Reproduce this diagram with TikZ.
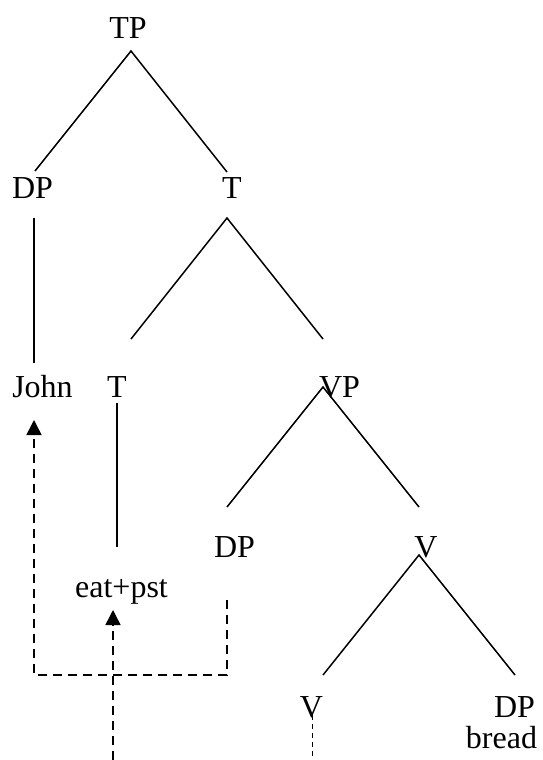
\documentclass[tikz,border=0pt]{standalone}
\usepackage{fontspec}
\setmainfont{Liberation Serif}
\usetikzlibrary{arrows.meta}

\begin{document}
\begin{tikzpicture}[
  x=1pt,y=-1pt,
  lbl/.style={anchor=base,inner sep=0pt,font=\fontsize{32}{36}\selectfont},
  branch/.style={line width=1.5pt},
  move/.style={line width=1.5pt,dash pattern=on 9pt off 6pt},
  trace/.style={line width=1pt,dash pattern=on 5pt off 4pt},
  mv/.style={-{Triangle[length=15pt,width=15pt]}}
]
  \useasboundingbox (0,0) rectangle (542,760);
  % labels
  \node[lbl] (tp)    at (128,38)    {TP};
  \node[lbl] (dpa)   at (32.5,198)  {DP};
  \node[lbl] (tbar)  at (232,198)   {T};
  \node[lbl] (john)  at (42.5,397)  {John};
  \node[lbl] (t)     at (117,397)   {T};
  \node[lbl] (vp)    at (339.5,397) {VP};
  \node[lbl] (dpb)   at (234.5,557) {DP};
  \node[lbl] (vbar)  at (426,557)   {V};
  \node[lbl] (eat)   at (121.5,597) {eat+pst};
  \node[lbl] (v)     at (311.5,717) {V};
  \node[lbl] (dpc)   at (514.5,717) {DP};
  \node[lbl] (bread) at (501.5,748) {bread};
  % branch ends
  \coordinate (tpTop) at (131,51);
  \coordinate (tpL)   at (35,171);
  \coordinate (tpR)   at (227,172);
  \coordinate (dpTop) at (34,218);
  \coordinate (dpBot) at (34,363);
  \coordinate (tbTop) at (227,218);
  \coordinate (tbL)   at (131,339);
  \coordinate (tbR)   at (323,339);
  \coordinate (tTop)  at (117,403);
  \coordinate (tBot)  at (117,547);
  \coordinate (vpTop) at (323,387);
  \coordinate (vpL)   at (227,507);
  \coordinate (vpR)   at (419,507);
  \coordinate (vbTop) at (419,555);
  \coordinate (vbL)   at (323,675);
  \coordinate (vbR)   at (515,675);
  % movement paths
  \coordinate (dpOut)  at (227,600);
  \coordinate (dpBend) at (227,675);
  \coordinate (jBend)  at (34,675);
  \coordinate (jTip)   at (34,420);
  \coordinate (vOut)   at (113,760);
  \coordinate (eTip)   at (113,610);
  \coordinate (vTop)   at (312,715);
  \coordinate (vEnd)   at (312,760);

  \draw[branch] (tpL) -- (tpTop) -- (tpR);
  \draw[branch] (dpTop) -- (dpBot);
  \draw[branch] (tbL) -- (tbTop) -- (tbR);
  \draw[branch] (tTop) -- (tBot);
  \draw[branch] (vpL) -- (vpTop) -- (vpR);
  \draw[branch] (vbL) -- (vbTop) -- (vbR);

  \draw[move,mv] (dpOut) -- (dpBend) -- (jBend) -- (jTip);
  \draw[move,mv] (vOut) -- (eTip);
  \draw[trace] (vTop) -- (vEnd);
\end{tikzpicture}
\end{document}
